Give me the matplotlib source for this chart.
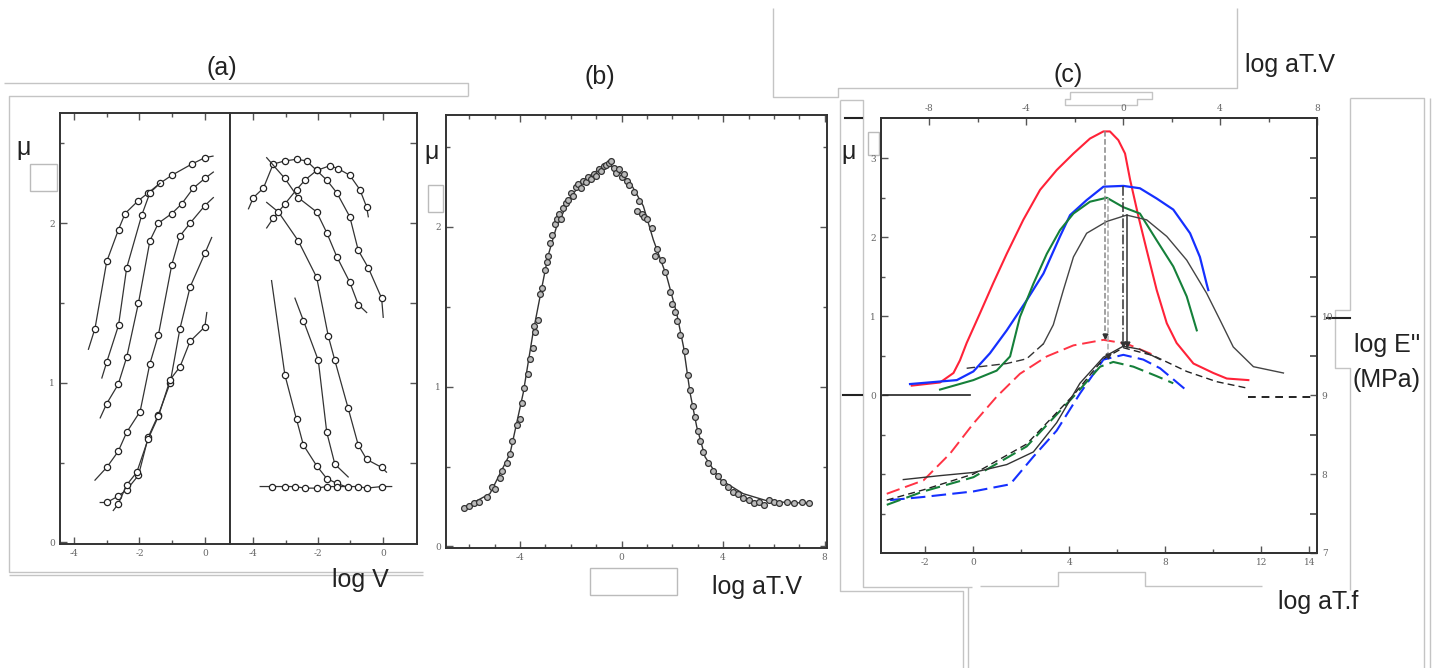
import matplotlib
matplotlib.use('Agg')
import matplotlib.pyplot as plt
from matplotlib.ticker import FixedLocator, NullFormatter

# ---- panel (a), left half: mu vs log V (rising curves)
a_left = {
    'A': ([-3.56, -3.36, -3.0, -2.64, -2.44, -2.04, -1.73, -1.37, -1.01, -0.40, 0.0, 0.25],
          [1.21, 1.34, 1.76, 1.96, 2.06, 2.14, 2.19, 2.25, 2.30, 2.37, 2.41, 2.42]),
    'B': ([-3.15, -3.0, -2.64, -2.39, -1.93, -1.68, -1.37],
          [1.03, 1.13, 1.36, 1.72, 2.05, 2.19, 2.25]),
    'C': ([-3.2, -3.0, -2.65, -2.39, -2.03, -1.68, -1.42, -1.01, -0.71, -0.35, 0.0, 0.26],
          [0.78, 0.87, 0.99, 1.16, 1.50, 1.89, 2.0, 2.06, 2.12, 2.22, 2.28, 2.32]),
    'D': ([-3.36, -3.0, -2.65, -2.39, -1.98, -1.68, -1.42, -1.01, -0.76, -0.45, 0.0, 0.26],
          [0.39, 0.47, 0.57, 0.69, 0.82, 1.12, 1.30, 1.74, 1.92, 2.0, 2.11, 2.16]),
    'E': ([-3.2, -3.0, -2.65, -2.39, -2.03, -1.73, -1.42, -1.06, -0.76, -0.45, 0.0, 0.21],
          [0.25, 0.25, 0.29, 0.33, 0.42, 0.66, 0.80, 1.0, 1.34, 1.60, 1.81, 1.91]),
    'F': ([-2.8, -2.65, -2.39, -2.08, -1.73, -1.42, -1.06, -0.76, -0.45, 0.0, 0.06],
          [0.20, 0.24, 0.36, 0.44, 0.65, 0.79, 1.02, 1.10, 1.26, 1.35, 1.44]),
}

# ---- panel (a), right half: mu vs log V (falling curves)
a_right = {
    'Ra': ([-4.14, -3.99, -3.68, -3.38, -3.02, -2.66, -2.35, -2.04, -1.73, -1.42, -1.02, -0.76, -0.45, -0.04, 0.01],
           [2.09, 2.16, 2.22, 2.37, 2.39, 2.40, 2.39, 2.33, 2.27, 2.19, 2.04, 1.83, 1.72, 1.53, 1.41]),
    'Rb': ([-3.58, -3.38, -3.02, -2.66, -2.40, -2.04, -1.63, -1.37, -1.02, -0.71, -0.50, -0.45],
           [1.97, 2.03, 2.12, 2.21, 2.27, 2.33, 2.36, 2.34, 2.30, 2.21, 2.10, 2.04]),
    'Rc': ([-3.58, -3.02, -2.61, -2.04, -1.73, -1.42, -1.02, -0.76, -0.50],
           [2.41, 2.28, 2.16, 2.07, 1.94, 1.79, 1.63, 1.49, 1.44]),
    'Rd': ([-3.58, -3.22, -2.61, -2.04, -1.68, -1.48, -1.07, -0.76, -0.50, -0.04, 0.11],
           [2.13, 2.07, 1.89, 1.66, 1.29, 1.14, 0.84, 0.61, 0.52, 0.47, 0.44]),
    'Re': ([-2.71, -2.45, -1.99, -1.73, -1.48, -1.07],
           [1.53, 1.39, 1.14, 0.69, 0.49, 0.41]),
    'Rf': ([-3.43, -3.02, -2.66, -2.45, -2.04, -1.73, -1.42, -1.02],
           [1.64, 1.05, 0.77, 0.61, 0.48, 0.40, 0.37, 0.34]),
    'Rg': ([-3.78, -3.43, -3.02, -2.71, -2.40, -2.04, -1.73, -1.42, -1.07, -0.76, -0.50, -0.04, 0.27],
           [0.35, 0.35, 0.35, 0.35, 0.34, 0.34, 0.35, 0.35, 0.35, 0.35, 0.34, 0.35, 0.35]),
}

# ---- panel (b): master curve mu vs log aT.V
b_curve_x = [-6.23, -5.18, -4.39, -3.87, -3.48, -3.15, -2.89, -2.56, -2.03, -1.51, -0.98, -0.58,
             -0.19, 0.33, 0.86, 1.25, 1.78, 2.17, 2.44, 2.70, 2.96, 3.29, 3.87, 4.79, 5.84, 7.42]
b_curve_y = [0.24, 0.33, 0.58, 0.96, 1.34, 1.61, 1.82, 2.00, 2.18, 2.29, 2.35, 2.39,
             2.36, 2.28, 2.13, 1.92, 1.69, 1.46, 1.25, 0.96, 0.75, 0.56, 0.42, 0.33, 0.28, 0.27]
b_pts_x = [-6.2, -6.0, -5.8, -5.6, -5.3, -5.1, -5.0, -4.8, -4.7, -4.5, -4.4, -4.3, -4.1, -4.0,
           -3.9, -3.85, -3.7, -3.6, -3.5, -3.45, -3.4, -3.3, -3.2, -3.15, -3.0, -2.95, -2.9, -2.8,
           -2.75, -2.6, -2.55, -2.45, -2.4, -2.3, -2.2, -2.1, -2.0, -1.9, -1.8, -1.7, -1.6, -1.5,
           -1.4, -1.3, -1.2, -1.1, -1.0, -0.9, -0.8, -0.7, -0.6, -0.5, -0.4, -0.3, -0.2, -0.1,
           0.0, 0.1, 0.2, 0.3, 0.5, 0.6, 0.7, 0.8, 0.9, 1.0, 1.2, 1.3, 1.4, 1.6, 1.7, 1.9, 2.0,
           2.1, 2.2, 2.3, 2.5, 2.6, 2.7, 2.8, 2.9, 3.0, 3.1, 3.2, 3.4, 3.6, 3.8, 4.0, 4.2, 4.4,
           4.6, 4.8, 5.0, 5.2, 5.4, 5.6, 5.8, 6.0, 6.2, 6.5, 6.8, 7.1, 7.4]
b_pts_y = [0.24, 0.25, 0.27, 0.28, 0.31, 0.37, 0.36, 0.43, 0.47, 0.52, 0.58, 0.66, 0.76, 0.80,
           0.90, 0.99, 1.08, 1.17, 1.24, 1.38, 1.34, 1.42, 1.58, 1.62, 1.73, 1.78, 1.82, 1.90,
           1.95, 2.02, 2.05, 2.08, 2.05, 2.12, 2.15, 2.17, 2.21, 2.19, 2.25, 2.27, 2.24, 2.29,
           2.28, 2.31, 2.30, 2.33, 2.32, 2.36, 2.35, 2.38, 2.39, 2.40, 2.41, 2.37, 2.34, 2.36,
           2.31, 2.33, 2.29, 2.26, 2.22, 2.10, 2.16, 2.08, 2.06, 2.05, 1.99, 1.82, 1.86, 1.79,
           1.72, 1.59, 1.52, 1.47, 1.41, 1.32, 1.22, 1.07, 0.98, 0.88, 0.81, 0.72, 0.66, 0.59,
           0.52, 0.47, 0.44, 0.40, 0.37, 0.34, 0.33, 0.30, 0.29, 0.27, 0.28, 0.26, 0.29, 0.28,
           0.27, 0.28, 0.27, 0.28, 0.27]

# ---- panel (c): mu (solid) and log E'' - 9 (dashed) vs log aT.f
mu_red_x = [-2.57, -1.39, -0.83, -0.56, -0.28, 0.28, 0.83, 1.39, 2.08, 2.78, 3.47, 4.17, 4.86, 5.42,
            5.69, 6.04, 6.32, 6.53, 6.88, 7.22, 7.64, 8.06, 8.47, 9.17, 10.0, 10.56, 11.46]
mu_red_y = [0.12, 0.16, 0.28, 0.44, 0.66, 1.04, 1.42, 1.79, 2.22, 2.60, 2.85, 3.06, 3.25, 3.34,
            3.34, 3.23, 3.06, 2.73, 2.26, 1.84, 1.33, 0.91, 0.66, 0.40, 0.28, 0.21, 0.19]
mu_blue_x = [-2.64, -0.69, 0.0, 0.69, 1.39, 2.22, 2.92, 3.61, 4.03, 4.72, 5.42, 6.25, 6.94, 7.64,
             8.33, 9.03, 9.44, 9.72, 9.79]
mu_blue_y = [0.14, 0.19, 0.30, 0.53, 0.82, 1.20, 1.54, 2.01, 2.28, 2.47, 2.64, 2.65, 2.62, 2.49,
             2.35, 2.05, 1.75, 1.41, 1.33]
mu_green_x = [-1.39, 0.0, 0.97, 1.53, 1.94, 2.50, 3.06, 3.61, 4.17, 4.86, 5.56, 6.25, 6.94, 7.64,
              8.33, 8.89, 9.31]
mu_green_y = [0.07, 0.19, 0.31, 0.49, 0.99, 1.41, 1.79, 2.09, 2.30, 2.45, 2.50, 2.38, 2.30, 1.96,
              1.63, 1.25, 0.82]
mu_model_x = [-0.28, 1.39, 2.22, 2.92, 3.33, 3.75, 4.17, 4.72, 5.56, 6.39, 7.22, 8.06, 8.89, 9.72,
              10.28, 10.83, 11.67, 12.92]
mu_model_y = [0.34, 0.40, 0.46, 0.65, 0.89, 1.33, 1.75, 2.05, 2.20, 2.28, 2.22, 2.01, 1.71, 1.29,
              0.95, 0.61, 0.36, 0.28]

e_red_x = [-3.61, -2.08, -0.97, 0.0, 0.97, 1.94, 3.06, 4.17, 5.42, 6.39, 7.5]
e_red_y = [-1.25, -1.08, -0.74, -0.36, -0.02, 0.27, 0.49, 0.63, 0.70, 0.65, 0.51]
e_blue_x = [-3.47, -2.08, 0.0, 1.53, 2.50, 3.47, 4.44, 5.42, 6.25, 7.08, 7.78, 8.96]
e_blue_y = [-1.33, -1.29, -1.22, -1.13, -0.78, -0.45, 0.02, 0.45, 0.51, 0.45, 0.34, 0.04]
e_green_x = [-3.61, -2.08, 0.0, 2.22, 4.17, 5.28, 5.83, 6.67, 7.64, 8.33]
e_green_y = [-1.39, -1.22, -1.04, -0.65, -0.02, 0.36, 0.42, 0.36, 0.24, 0.15]
e_model1_x = [-3.61, -2.08, 0.0, 2.22, 4.17, 5.42, 6.25, 7.5, 8.89, 10.14, 11.39]
e_model1_y = [-1.33, -1.20, -1.0, -0.62, 0.0, 0.46, 0.60, 0.50, 0.30, 0.17, 0.09]
e_model2_x = [-2.92, -1.39, 0.0, 1.39, 2.50, 3.47, 4.44, 5.42, 6.25, 6.94, 7.78]
e_model2_y = [-1.07, -1.02, -0.98, -0.88, -0.72, -0.35, 0.15, 0.48, 0.62, 0.58, 0.45]

peak_x = [5.49, 5.63, 6.25, 6.39]
peak_top = [3.34, 2.50, 2.65, 2.28]
peak_bottom = [0.70, 0.45, 0.60, 0.60]
peak_style = ['--', '--', '-.', '-']
peak_color = ['#888888', '#aaaaaa', '#333333', '#333333']

W, H = 1440, 668
fig = plt.figure(figsize=(W / 100, H / 100), dpi=100)

# full-figure overlay in pixel units for frames and labels
ov = fig.add_axes([0, 0, 1, 1], zorder=0)
ov.set_xlim(0, W)
ov.set_ylim(H, 0)
ov.axis('off')


def px_axes(x0, y0, x1, y1):
    return fig.add_axes([x0 / W, 1 - y1 / H, (x1 - x0) / W, (y1 - y0) / H], zorder=2)


def frame(xs, ys, c='#c4c4c4', lw=1.0):
    ov.plot(xs, ys, color=c, lw=lw, solid_capstyle='butt')


lab_font = dict(family=['Liberation Sans Narrow', 'Liberation Sans'], size=18, color='#222222')
spine_c = '#333333'


def style(ax, lw=1.4):
    for s in ax.spines.values():
        s.set_color(spine_c)
        s.set_linewidth(lw)
    ax.tick_params(which='both', direction='in', colors='#555555', labelcolor='#666666',
                   labelsize=6.5, width=1.0)
    ax.tick_params(which='major', length=5)
    ax.tick_params(which='minor', length=3)
    for t in ax.get_xticklabels() + ax.get_yticklabels():
        t.set_family('DejaVu Serif')


# ---------------- frames (grey crop borders of the composite) ----------------
frame([4, 468, 468], [83, 83, 96])
frame([468, 9, 9, 423], [96, 96, 572, 572])
frame([9, 423], [575, 575])
ov.add_patch(plt.Rectangle((30, 164), 27, 27, fill=False, ec='#bbbbbb', lw=1))
ov.add_patch(plt.Rectangle((428, 185), 15, 27, fill=False, ec='#bbbbbb', lw=1))
ov.add_patch(plt.Rectangle((590, 568), 87, 27, fill=False, ec='#bbbbbb', lw=1))
frame([773, 773, 838, 838, 1237, 1237], [8, 97, 97, 88, 88, 8])
frame([1070, 1152, 1152, 1137, 1137, 1065, 1065, 1070, 1070],
      [92, 92, 99, 99, 105, 105, 99, 99, 92])
frame([840, 840, 963, 963], [100, 591, 591, 668])
frame([840, 863, 863, 972], [100, 100, 587, 587])
frame([968, 968], [587, 668])
frame([980, 1058, 1058, 1145, 1145, 1262], [586, 586, 572, 572, 586, 586])
ov.add_patch(plt.Rectangle((868, 132), 11, 23, fill=False, ec='#bbbbbb', lw=1))
frame([1350, 1350, 1335, 1335, 1350, 1350], [98, 310, 310, 368, 368, 590])
frame([1350, 1424, 1424], [98, 98, 668])
frame([1430, 1430], [98, 668])
ov.plot([845, 862], [118, 118], color='#222222', lw=1.5)
ov.plot([843, 862], [395, 395], color='#222222', lw=1.5)
ov.plot([1327, 1350], [318, 318], color='#222222', lw=1.5)

# ---------------- texts ----------------
ov.text(222, 68, '(a)', ha='center', va='center', **lab_font)
ov.text(600, 77, '(b)', ha='center', va='center', **lab_font)
ov.text(1068, 75, '(c)', ha='center', va='center', **lab_font)
ov.text(24, 148, 'μ', ha='center', va='center', **lab_font)
ov.text(432, 152, 'μ', ha='center', va='center', **lab_font)
ov.text(849, 152, 'μ', ha='center', va='center', **lab_font)
ov.text(360, 580, 'log V', ha='center', va='center', **lab_font)
ov.text(757, 587, 'log aT.V', ha='center', va='center', **lab_font)
ov.text(1290, 65, 'log aT.V', ha='center', va='center', **lab_font)
ov.text(1318, 602, 'log aT.f', ha='center', va='center', **lab_font)
ov.text(1354, 345, "log E''", ha='left', va='center', **lab_font)
ov.text(1352, 380, '(MPa)', ha='left', va='center', **lab_font)

# ---------------- panel (a) ----------------
mk = dict(marker='o', ms=4.5, mfc='white', mec='#222222', mew=0.9)
axl = px_axes(60, 113, 230, 544)
for xs, ys in a_left.values():
    axl.plot(xs, ys, color='#333333', lw=0.9, markevery=slice(1, -1), **mk)
axl.set_xlim(-4.43, 0.77)
axl.set_ylim(-0.01, 2.69)
axl.xaxis.set_major_locator(FixedLocator([-4, -2, 0]))
axl.xaxis.set_minor_locator(FixedLocator([-3, -1]))
axl.yaxis.set_major_locator(FixedLocator([0, 1, 2]))
axl.yaxis.set_minor_locator(FixedLocator([0.5, 1.5, 2.5]))
axl.set_xticklabels(['-4', '-2', '0'])
axl.set_yticklabels(['0', '1', '2'])
axl.tick_params(which='both', top=True, right=False)
style(axl)

axr = px_axes(230, 113, 417, 544)
for xs, ys in a_right.values():
    axr.plot(xs, ys, color='#333333', lw=0.9, markevery=slice(1, -1), **mk)
axr.set_xlim(-4.71, 1.05)
axr.set_ylim(-0.01, 2.69)
axr.xaxis.set_major_locator(FixedLocator([-4, -2, 0]))
axr.xaxis.set_minor_locator(FixedLocator([-3, -1]))
axr.set_xticklabels(['-4', '-2', '0'])
axr.yaxis.set_major_locator(FixedLocator([0.5, 1.0, 1.5, 2.0, 2.5]))
axr.yaxis.set_major_formatter(NullFormatter())
axr.tick_params(which='both', top=True, left=False, right=True)
style(axr)

# ---------------- panel (b) ----------------
axb = px_axes(446, 115, 827, 548)
axb.plot(b_curve_x, b_curve_y, color='#333333', lw=1.0)
axb.plot(b_pts_x, b_pts_y, ls='none', marker='o', ms=4.2, mfc='#bbbbbb', mec='#333333', mew=0.9)
axb.set_xlim(-6.91, 8.09)
axb.set_ylim(-0.01, 2.70)
axb.xaxis.set_major_locator(FixedLocator([-4, 0, 4, 8]))
axb.xaxis.set_minor_locator(FixedLocator([-6, -5, -3, -2, -1, 1, 2, 3, 5, 6, 7]))
axb.set_xticklabels(['-4', '0', '4', '8'])
axb.yaxis.set_major_locator(FixedLocator([0, 1, 2]))
axb.yaxis.set_minor_locator(FixedLocator([0.5, 1.5, 2.5]))
axb.set_yticklabels(['0', '1', '2'])
axb.tick_params(which='both', top=True, right=True)
style(axb)

# ---------------- panel (c) ----------------
axc = px_axes(881, 118, 1317, 553)
axc.plot(mu_red_x, mu_red_y, color='#ff2238', lw=1.5)
axc.plot(mu_blue_x, mu_blue_y, color='#1530ff', lw=1.6)
axc.plot(mu_green_x, mu_green_y, color='#15803a', lw=1.5)
axc.plot(mu_model_x[:4], mu_model_y[:4], color='#333333', lw=1.0, ls=(0, (6, 3)))
axc.plot(mu_model_x[3:], mu_model_y[3:], color='#444444', lw=1.0)
axc.plot(e_red_x, e_red_y, color='#ff3344', lw=1.4, ls=(0, (7, 3)))
axc.plot(e_blue_x, e_blue_y, color='#1530ff', lw=1.5, ls=(0, (7, 3)))
axc.plot(e_green_x, e_green_y, color='#15803a', lw=1.5, ls=(0, (7, 3)))
axc.plot(e_model1_x, e_model1_y, color='#222222', lw=1.0, ls=(0, (5, 3)))
axc.plot(e_model2_x, e_model2_y, color='#333333', lw=1.0)
for px, t, b, s, c in zip(peak_x, peak_top, peak_bottom, peak_style, peak_color):
    axc.plot([px, px], [t, b], color=c, lw=1.1, ls=s)
    axc.plot([px], [b + 0.05], marker='v', color='#333333', ms=3.5)
axc.plot([-3.75, -0.14], [0, 0], color='#222222', lw=1.2)
axc.plot([11.46, 14.3], [-0.02, -0.02], color='#222222', lw=1.4, ls=(0, (4, 3)))
axc.set_xlim(-3.85, 14.32)
axc.set_ylim(-2.0, 3.51)
axc.xaxis.set_major_locator(FixedLocator([-2, 0, 4, 8, 12, 14]))
axc.xaxis.set_minor_locator(FixedLocator([2, 6, 10]))
axc.set_xticklabels(['-2', '0', '4', '8', '12', '14'])
axc.yaxis.set_major_locator(FixedLocator([0, 1, 2, 3]))
axc.yaxis.set_minor_locator(FixedLocator([-1.5, -1.0, -0.5, 0.5, 1.5, 2.5]))
axc.set_yticklabels(['0', '1', '2', '3'])
style(axc)

axt = axc.twiny()
axt.set_xlim(-10, 8)
axt.xaxis.set_major_locator(FixedLocator([-8, -4, 0, 4, 8]))
axt.xaxis.set_minor_locator(FixedLocator([-6, -2, 2, 6]))
axt.set_xticklabels(['-8', '-4', '0', '4', '8'])
style(axt)

axe = axc.twinx()
axe.set_ylim(7.0, 12.51)
axe.yaxis.set_major_locator(FixedLocator([7, 8, 9, 10]))
axe.yaxis.set_minor_locator(FixedLocator([7.5, 8.5, 9.5, 10.5, 11, 11.5, 12]))
axe.set_yticklabels(['7', '8', '9', '10'])
style(axe)
axe.tick_params(which='minor', length=5, width=1.3)

fig.savefig('out.png', dpi=100, facecolor='white')
